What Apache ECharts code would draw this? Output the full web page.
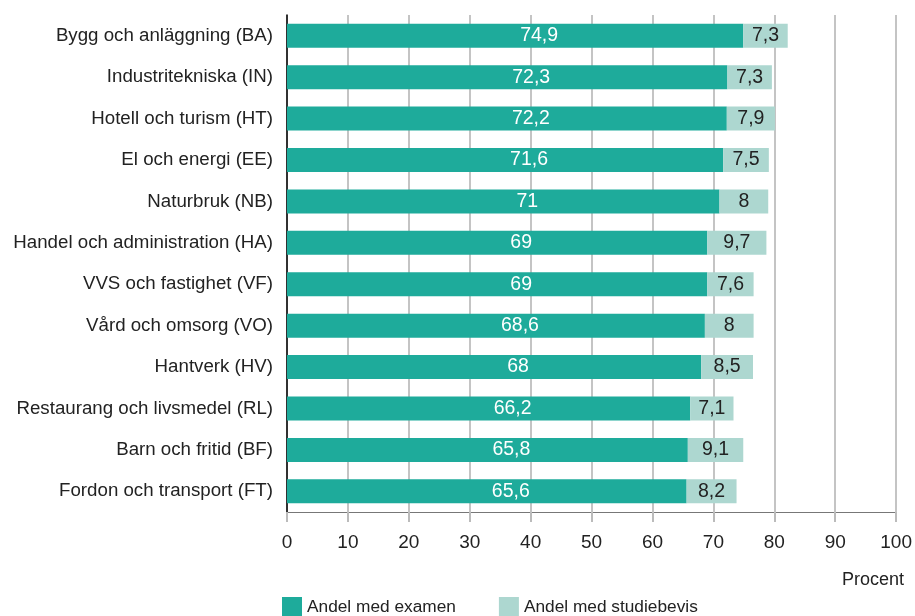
<!DOCTYPE html>
<html>
<head>
<meta charset="utf-8">
<script src="https://cdn.jsdelivr.net/npm/echarts@6/dist/echarts.min.js"></script>
<style>
  html, body { margin: 0; padding: 0; background: #fff; }
  #chart { width: 915px; height: 616px; }
</style>
</head>
<body>
<div id="chart"></div>
<script>
const categories = [
  'Bygg och anläggning (BA)',
  'Industritekniska (IN)',
  'Hotell och turism (HT)',
  'El och energi (EE)',
  'Naturbruk (NB)',
  'Handel och administration (HA)',
  'VVS och fastighet (VF)',
  'Vård och omsorg (VO)',
  'Hantverk (HV)',
  'Restaurang och livsmedel (RL)',
  'Barn och fritid (BF)',
  'Fordon och transport (FT)'
];
const examen = [74.9, 72.3, 72.2, 71.6, 71, 69, 69, 68.6, 68, 66.2, 65.8, 65.6];
const studiebevis = [7.3, 7.3, 7.9, 7.5, 8, 9.7, 7.6, 8, 8.5, 7.1, 9.1, 8.2];

const FONT = '"Liberation Sans", Arial, sans-serif';
const TEXT = '#222';
const commaFmt = p => String(p.value).replace('.', ',');

const chart = echarts.init(document.getElementById('chart'));

chart.setOption({
  animation: false,
  textStyle: { fontFamily: FONT },
  title: {
    text: 'Procent',
    right: 6,
    top: 566,
    textStyle: { fontFamily: FONT, fontSize: 18, fontWeight: 'normal', color: TEXT }
  },
  legend: {
    left: 282,
    top: 597,
    padding: 0,
    itemWidth: 20,
    itemHeight: 20,
    itemGap: 43,
    icon: 'rect',
    textStyle: { fontFamily: FONT, fontSize: 17.3, color: TEXT },
    data: ['Andel med examen', 'Andel med studiebevis']
  },
  grid: { left: 287, right: 18, top: 15, bottom: 104, containLabel: false },
  xAxis: {
    type: 'value',
    min: 0,
    max: 100,
    interval: 10,
    axisLine: { show: true, lineStyle: { color: '#777', width: 1 } },
    axisTick: { show: true, length: 10, lineStyle: { color: '#bbb', width: 2 } },
    splitLine: { show: true, lineStyle: { color: '#c4c4c4', width: 2 } },
    axisLabel: { fontFamily: FONT, fontSize: 19, color: TEXT, margin: 21 }
  },
  yAxis: {
    type: 'category',
    data: categories,
    inverse: true,
    axisLine: { show: true, lineStyle: { color: '#000', width: 1.5 } },
    axisTick: { show: false },
    axisLabel: { fontFamily: FONT, fontSize: 18.7, color: TEXT, margin: 14 }
  },
  series: [
    {
      name: 'Andel med examen',
      type: 'bar',
      stack: 'total',
      barWidth: 24,
      data: examen,
      itemStyle: { color: '#1eab9b' },
      // labels sit a bit right of centre in the original
      label: { show: true, position: 'inside', offset: [24, 0], color: '#fff', fontFamily: FONT, fontSize: 19.5, formatter: commaFmt }
    },
    {
      name: 'Andel med studiebevis',
      type: 'bar',
      stack: 'total',
      barWidth: 24,
      data: studiebevis,
      itemStyle: { color: '#add7d0' },
      label: { show: true, position: 'inside', color: TEXT, fontFamily: FONT, fontSize: 19.5, formatter: commaFmt }
    }
  ]
});
</script>
</body>
</html>
